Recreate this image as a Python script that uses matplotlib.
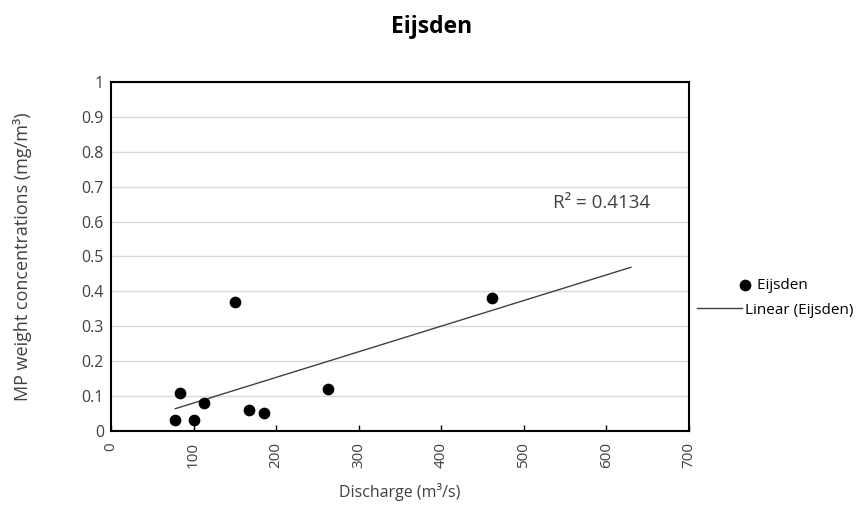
import numpy as np
import matplotlib
matplotlib.use("Agg")
import matplotlib.pyplot as plt
from matplotlib.legend_handler import HandlerPathCollection

plt.rcParams['font.family'] = ['Open Sans', 'DejaVu Sans']

# Data
discharge = [78, 83.5, 100, 112.6, 150, 167, 186, 263, 462]
concentration = [0.032, 0.109, 0.032, 0.079, 0.370, 0.060, 0.052, 0.121, 0.381]
r2_label = "R² = 0.4134"
trend_end = 630  # trendline forecast forward

x_ticks = [0, 100, 200, 300, 400, 500, 600, 700]
y_ticks = [0, 0.1, 0.2, 0.3, 0.4, 0.5, 0.6, 0.7, 0.8, 0.9, 1]
y_tick_labels = ["0", "0.1", "0.2", "0.3", "0.4", "0.5", "0.6", "0.7", "0.8", "0.9", "1"]

x = np.array(discharge)
y = np.array(concentration)
slope, intercept = np.polyfit(x, y, 1)


# Put the legend dot just past the end of the handle box, like Excel does
class RightDotHandler(HandlerPathCollection):
    def get_xdata(self, legend, xdescent, ydescent, width, height, fontsize):
        xd = np.array([width + 2.2 - xdescent])
        return xd, xd


fig = plt.figure(figsize=(8.63, 5.19), dpi=100)
ax = fig.add_axes([0.1286, 0.1696, 0.6694, 0.6724])

sc = ax.scatter(x, y, s=55, color="black", zorder=3, label="   Eijsden")
xt = np.array([x.min(), trend_end])
ax.plot(xt, slope * xt + intercept, color="#404040", lw=1, zorder=2, label="Linear (Eijsden)")

ax.set_xlim(0, 700)
ax.set_ylim(0, 1)
ax.set_xticks(x_ticks)
ax.set_xticklabels([str(v) for v in x_ticks], rotation=90)
ax.set_yticks(y_ticks)
ax.set_yticklabels(y_tick_labels)
ax.tick_params(axis="x", direction="in", length=4, width=1, labelsize=11, colors="black", labelcolor="#404040", pad=8)
ax.tick_params(axis="y", length=0, labelsize=11.5, labelcolor="#404040", pad=5)
ax.grid(axis="y", color="#d9d9d9", lw=1)
ax.set_axisbelow(True)
for s in ax.spines.values():
    s.set_color("black")
    s.set_linewidth(1.5)

ax.text(535, 0.653, r2_label, fontsize=13.5, color="#404040", va="center")

ax.set_xlabel("Discharge (m³/s)", fontsize=11.5, color="#404040", labelpad=11)
ax.set_ylabel("MP weight concentrations (mg/m³)", fontsize=13, color="#404040", labelpad=36)
fig.text(0.5, 0.948, "Eijsden", fontsize=16.5, fontweight="bold", ha="center", va="center")

ax.legend(loc="center left", bbox_to_anchor=(1.003, 0.381), frameon=False, fontsize=11,
          handlelength=2.95, labelspacing=0.6, handletextpad=0.2, borderaxespad=0,
          handler_map={sc: RightDotHandler()})

fig.savefig("out.png", dpi=100)
